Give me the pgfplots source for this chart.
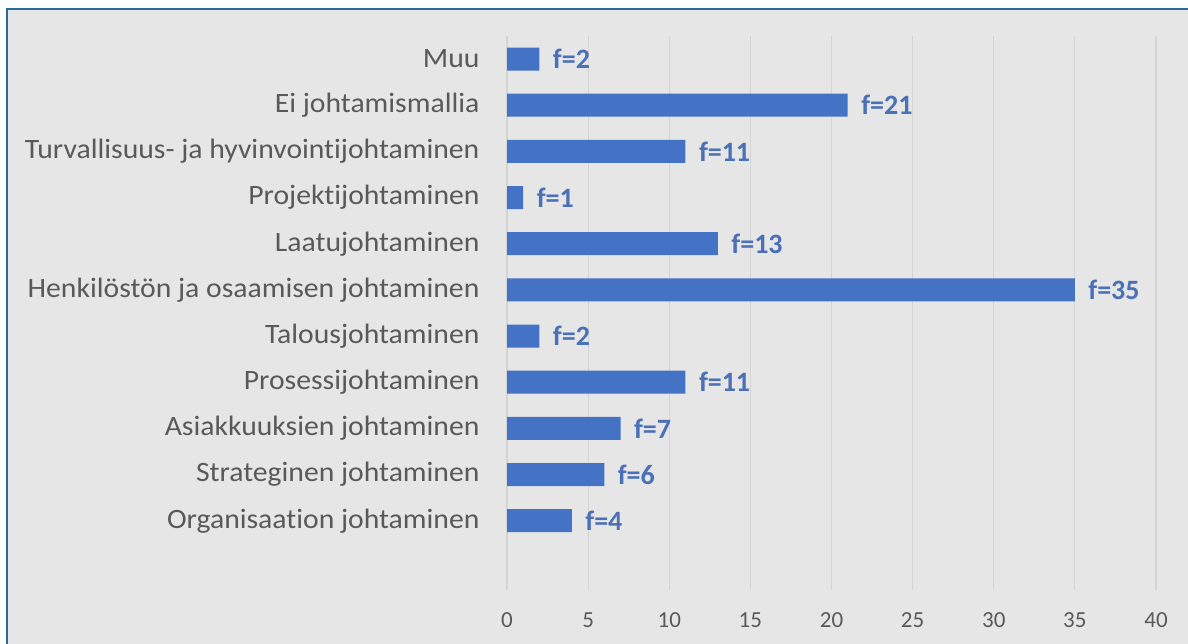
\documentclass[border=0pt]{standalone}
\usepackage{pgfplots}
\pgfplotsset{compat=1.18}
\usepackage{fontspec}
\setmainfont{Carlito}[Ligatures=NoCommon]
\newfontfamily\labfont{Carlito}[FakeStretch=1.06, Ligatures=NoCommon]
\definecolor{barblue}{HTML}{4472C4}
\definecolor{labblue}{HTML}{4A70B8}
\definecolor{bg}{HTML}{E7E6E6}
\definecolor{frame}{RGB}{40,105,150}
\definecolor{txt}{HTML}{595959}
\definecolor{gridc}{HTML}{D4D4D4}
\begin{document}
\begin{tikzpicture}[x=1pt,y=1pt]
\path[use as bounding box] (0,0) rectangle (1188,644);
\fill[white] (0,0) rectangle (1188,644);
\fill[bg] (7,0) rectangle (1188,635);
\draw[frame, line width=2.2pt] (7,-2) -- (7,635) -- (1190,635);
\begin{axis}[
  at={(507pt,54pt)}, anchor=south west,
  scale only axis,
  width=649pt, height=554pt,
  xbar, bar width=23pt,
  xmin=0, xmax=40, ymin=-1.5, ymax=10.5,
  xtick={0,5,...,40},
  ytick={0,...,10},
  yticklabels={Organisaation johtaminen, Strateginen johtaminen, Asiakkuuksien johtaminen, Prosessijohtaminen, Talousjohtaminen, Henkilöstön ja osaamisen johtaminen, Laatujohtaminen, Projektijohtaminen, Turvallisuus- ja hyvinvointijohtaminen, Ei johtamismallia, Muu},
  axis line style={draw=none},
  major tick length=0pt,
  xmajorgrids, grid style={gridc, line width=1.2pt},
  /pgf/number format/assume math mode=true,
  xticklabel style={font=\fontsize{23}{26}\selectfont, text=txt, yshift=-19pt},
  yticklabel style={font=\labfont\fontsize{28}{32}\selectfont, text=txt, xshift=-24pt},
  nodes near coords={f=\pgfmathprintnumber{\pgfplotspointmeta}},
  point meta=x,
  every node near coord/.append style={font=\fontsize{28}{32}\selectfont\bfseries, text=labblue, anchor=west, xshift=10pt},
  clip=false,
]
\addplot[fill=barblue, draw=none] coordinates {
(4,0) (6,1) (7,2) (11,3) (2,4) (35,5) (13,6) (1,7) (11,8) (21,9) (2,10)
};
\end{axis}
\end{tikzpicture}
\end{document}
